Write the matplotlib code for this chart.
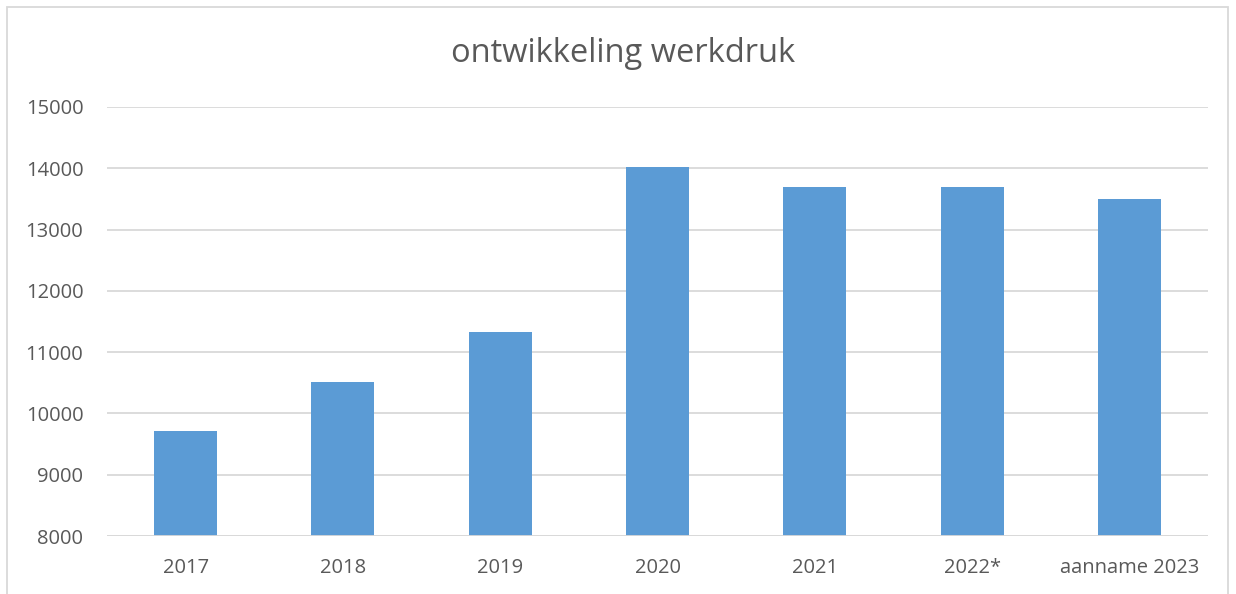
import matplotlib
matplotlib.use('Agg')
import matplotlib.pyplot as plt
from matplotlib.patches import Rectangle

# gegevens
categories = ['2017', '2018', '2019', '2020', '2021', '2022*', 'aanname 2023']
values = [9720, 10520, 11330, 14020, 13700, 13700, 13500]
y_ticks = [8000, 9000, 10000, 11000, 12000, 13000, 14000, 15000]

text_color = '#595959'
grid_color = '#D9D9D9'
bar_color = '#5B9BD5'

plt.rcParams['font.family'] = ['Open Sans', 'DejaVu Sans']

fig = plt.figure(figsize=(12.36, 5.94), dpi=100)
ax = fig.add_axes([107 / 1236, 1 - 536 / 594, (1208 - 107) / 1236, (536 - 107) / 594])

x = list(range(len(categories)))
ax.bar(x, [v - 8000 for v in values], bottom=8000, width=0.4, color=bar_color, zorder=3)

ax.set_xlim(-0.5, len(categories) - 0.5)
ax.set_ylim(8000, 15000)
ax.set_yticks(y_ticks)
ax.set_yticklabels([str(t) for t in y_ticks])
ax.set_xticks(x)
ax.set_xticklabels(categories)
ax.yaxis.grid(True, color=grid_color, linewidth=1.3, zorder=0)
ax.tick_params(axis='both', length=0, labelsize=14.5, labelcolor=text_color)
ax.tick_params(axis='y', pad=17)
ax.tick_params(axis='x', pad=16)
for s in ax.spines.values():
    s.set_visible(False)
ax.axhline(8000, color=grid_color, linewidth=1.3, zorder=4)

fig.text(623 / 1236, 1 - 53 / 594, 'ontwikkeling werkdruk', ha='center', va='center',
         fontsize=23.5, color=text_color)

# kader rond de grafiek
fig.patches.append(Rectangle((7 / 1236, -0.05), (1228 - 7) / 1236, 1 - 7 / 594 + 0.05,
                             transform=fig.transFigure, fill=False,
                             edgecolor=grid_color, linewidth=1.3))

fig.savefig('out.png', dpi=100, facecolor='white')
